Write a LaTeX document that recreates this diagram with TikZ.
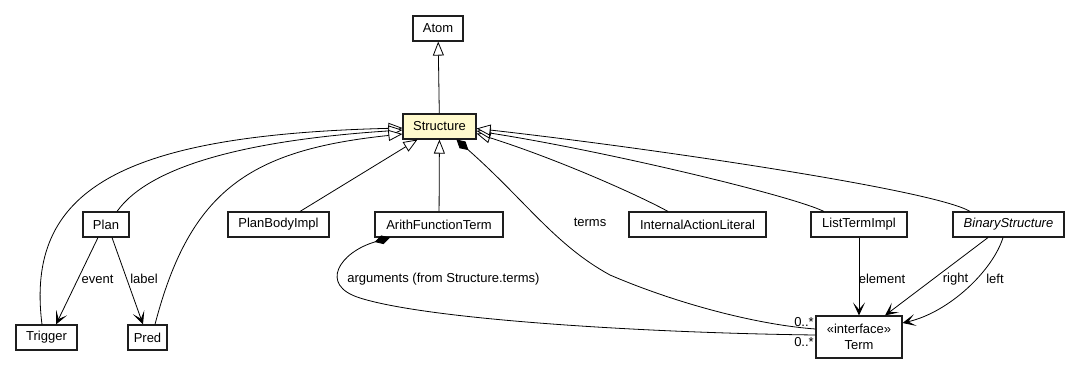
\documentclass[tikz,border=0pt]{standalone}
\usepackage{fontspec}
\setmainfont{Liberation Sans}
\usetikzlibrary{arrows.meta}
\definecolor{structY}{RGB}{255, 250, 205}
\definecolor{edgeG}{RGB}{30, 30, 30}

\begin{document}
\begin{tikzpicture}[x = 1pt, y = -1pt, font = \fontsize{13}{15.5}\selectfont,
			cls/.style = {draw = edgeG, line width = 1.1pt, minimum height = 25pt, inner sep = 0pt, fill = white},
			gen/.style = {-{Triangle[open, length = 14pt, width = 11pt, fill = white]}, line width = 0.8pt},
			nav/.style = {-{Stealth[length = 13pt, width = 12pt, inset = 7pt]}, line width = 0.8pt},
			comp/.style = {{Diamond[length = 16pt, width = 9pt]}-, line width = 0.8pt},
			lbl/.style = {inner sep = 0pt}]
			\useasboundingbox (0,0) rectangle (1079,369);
			\node (atom) at (438,28.5) [cls, minimum width = 50pt] {Atom};
			\node (str) at (439.5,126.5) [cls, minimum width = 73pt, fill = structY] {Structure};
			\node (plan) at (106,224.5) [cls, minimum width = 46pt] {Plan};
			\node (pbi) at (278.5,224.5) [cls, minimum width = 101pt] {PlanBodyImpl};
			\node (aft) at (439,224.5) [cls, minimum width = 128pt] {ArithFunctionTerm};
			\node (ial) at (697.5,224.5) [cls, minimum width = 137pt] {InternalActionLiteral};
			\node (lti) at (859,224.5) [cls, minimum width = 96pt] {ListTermImpl};
			\node (bin) at (1008.5,224.5) [cls, minimum width = 111pt] {\textit{BinaryStructure}};
			\node (trig) at (46.5,337.5) [cls, minimum width = 61pt] {Trigger};
			\node (pred) at (147.5,337.5) [cls, minimum width = 39pt] {Pred};
			\node (term) at (859,337) [cls, minimum width = 86pt, minimum height = 42pt, align = center] {«interface»\\Term};

			\draw[gen] (str) -- (atom);
			\draw[gen] ([xshift = -4.5pt]trig.north) .. controls (25,190) and (120,135) .. ([yshift = -1.5pt]str.west);
			\draw[gen] ([xshift = 11pt]plan.north) .. controls (150,165) and (250,140) .. ([yshift = -3.5pt]str.west);
			\draw[gen] ([xshift = 7.5pt]pred.north) .. controls (190,190) and (250,150) .. ([yshift = -7.5pt]str.west);
			\draw[gen] ([xshift = 21.5pt]pbi.north) -- ([xshift = -22pt]str.south);
			\draw[gen] (aft) -- (str);
			\draw[gen] ([xshift = -29.5pt]ial.north) .. controls (640,196) and (560,160) .. ([yshift = -7pt]str.east);
			\draw[gen] ([xshift = -35pt]lti.north) .. controls (790,195) and (600,150) .. ([yshift = -4.5pt]str.east);
			\draw[gen] ([xshift = -38.5pt]bin.north) .. controls (935,190) and (650,148) .. ([yshift = -2pt]str.east);

			\draw[comp] ([xshift = 17pt]str.south) .. controls (525,200) and (555,245) .. (610,275) .. controls (680,305) and (760,325) .. ([yshift = 8pt]term.west);
			\draw[comp] ([xshift = -49pt]aft.south) .. controls (340,252) and (318,285) .. (360,298) .. controls (430,320) and (650,333) .. ([yshift = 2pt]term.west);

			\draw[nav] ([xshift = -8pt]plan.south) -- ([xshift = 9.5pt]trig.north);
			\draw[nav] ([xshift = 6pt]plan.south) -- ([xshift = -4.5pt]pred.north);
			\draw[nav] (lti) -- (term);
			\draw[nav] ([xshift = -20.5pt]bin.south) -- ([xshift = 26pt]term.north);
			\draw[nav] ([xshift = -5.5pt]bin.south) .. controls (993,270) and (950,312) .. ([yshift = 14pt]term.east);

			\node (lev) at (97.5,279) [lbl] {event};
			\node (llab) at (144,279) [lbl] {label};
			\node (lterms) at (590,222) [lbl] {terms};
			\node (largs) at (443.5,279) [lbl] {arguments (from Structure.terms)};
			\node (lel) at (882,279) [lbl] {element};
			\node (lright) at (955.5,279) [lbl] {right};
			\node (lleft) at (995,279) [lbl] {left};
			\node (m1) at (804,322) [lbl] {0..*};
			\node (m2) at (804,342) [lbl] {0..*};
			\end{tikzpicture}
\end{document}
